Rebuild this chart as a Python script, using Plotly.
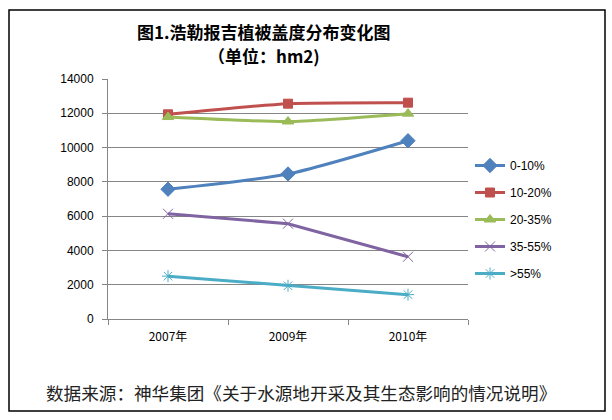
import plotly.graph_objects as go

years = ["2007年", "2009年", "2010年"]
s_0_10 = [7570, 8460, 10400]
s_10_20 = [11940, 12560, 12620]
s_20_35 = [11780, 11520, 11980]
s_35_55 = [6140, 5560, 3630]
s_55 = [2500, 1940, 1420]
y_ticks = [0, 2000, 4000, 6000, 8000, 10000, 12000, 14000]

W, H = 612, 420
L, R, T, B = 108, 468, 79, 319  # plot area in px


def px(x):
    return (x - L) / (R - L)


def py(y):
    return (B - y) / (B - T)


series = [
    ("0-10%", s_0_10, "#4F81BD", "diamond", 11, "spline"),
    ("10-20%", s_10_20, "#C0504D", "square", 9, "spline"),
    ("20-35%", s_20_35, "#9BBB59", "triangle-up", 10, "spline"),
    ("35-55%", s_35_55, "#8064A2", "x-thin-open", 10, "linear"),
    (">55%", s_55, "#4BACC6", "asterisk-open", 10, "linear"),
]

fig = go.Figure()
for i, (name, vals, col, sym, sz, shape) in enumerate(series):
    fig.add_trace(go.Scatter(
        x=years, y=vals, name=name, mode="lines+markers",
        line=dict(color=col, width=3, shape=shape, smoothing=0.6),
        marker=dict(symbol=sym, size=sz, color=col, line=dict(color=col, width=1)),
        legendgroup=f"g{i}",
    ))

fig.update_layout(
    width=W, height=H,
    margin=dict(l=L, r=W - R, t=T, b=H - B),
    paper_bgcolor="white", plot_bgcolor="white",
    font=dict(family="Noto Sans CJK SC, Liberation Sans, sans-serif", size=12, color="#000000"),
    showlegend=True,
    legend=dict(x=px(470), y=py(151), xanchor="left", yanchor="top",
                font=dict(size=12, family="Liberation Sans, Noto Sans CJK SC"),
                traceorder="grouped", tracegroupgap=8, bgcolor="rgba(0,0,0,0)"),
    xaxis=dict(type="category", range=[-0.5, 2.5], showgrid=False,
               showline=True, linecolor="#868686", linewidth=1,
               ticks="outside", ticklen=5, tickcolor="#868686", tickson="boundaries",
               tickfont=dict(size=12, family="Noto Sans CJK SC"), ticklabelstandoff=7),
    yaxis=dict(range=[0, 14000], tickvals=y_ticks, ticktext=[str(v) for v in y_ticks],
               showgrid=True, gridcolor="#868686",
               gridwidth=1, showline=True, linecolor="#868686", linewidth=1,
               ticks="outside", ticklen=5, tickcolor="#868686", zeroline=False,
               tickfont=dict(size=12, family="Liberation Sans"), ticklabelstandoff=6),
    shapes=[dict(type="rect", xref="paper", yref="paper",
                 x0=px(9), x1=px(605), y0=py(411), y1=py(10),
                 line=dict(color="#000000", width=1.5), fillcolor="rgba(0,0,0,0)")],
    annotations=[
        dict(text="<b>图1.浩勒报吉植被盖度分布变化图</b>", xref="paper", yref="paper",
             x=px(264), y=py(31), xanchor="center", yanchor="middle", showarrow=False,
             font=dict(size=17, family="Noto Sans CJK SC", color="#000000")),
        dict(text="<b>（单位：hm2)</b>", xref="paper", yref="paper",
             x=px(264), y=py(56), xanchor="center", yanchor="middle", showarrow=False,
             font=dict(size=17, family="Noto Sans CJK SC", color="#000000")),
        dict(text="数据来源：神华集团《关于水源地开采及其生态影响的情况说明》", xref="paper", yref="paper",
             x=px(301), y=py(392), xanchor="center", yanchor="middle", showarrow=False,
             font=dict(size=17.6, family="Noto Sans CJK SC", color="#222222")),
    ],
)

fig.write_html("out.html", config={"displayModeBar": False},
               post_script="document.body.style.margin='0';")
